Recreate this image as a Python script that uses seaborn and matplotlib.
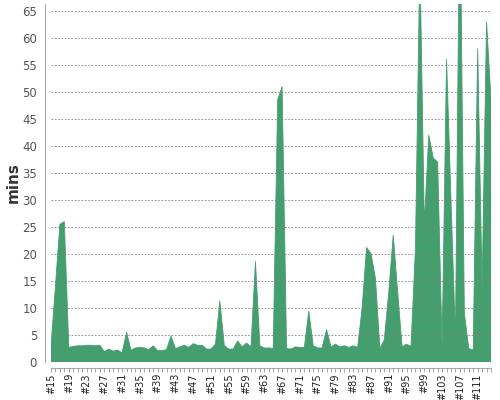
import matplotlib
matplotlib.use("Agg")
import matplotlib.pyplot as plt
import seaborn as sns
import pandas as pd

builds = list(range(15, 115))
minutes = [
    3.0, 14.0, 25.5, 26.0, 2.7, 2.9, 3.0, 3.0, 3.1, 3.1,      # 15-24
    3.0, 3.1, 1.9, 2.4, 2.0, 2.2, 1.7, 5.5, 2.2, 2.6,         # 25-34
    2.7, 2.6, 2.3, 3.0, 2.1, 2.1, 2.3, 4.8, 2.5, 2.8,         # 35-44
    3.1, 2.7, 3.4, 3.1, 3.1, 2.4, 2.4, 3.3, 11.3, 3.0,        # 45-54
    2.4, 2.4, 3.9, 2.8, 3.5, 2.8, 18.6, 3.0, 2.6, 2.6,        # 55-64
    2.5, 48.5, 51.0, 2.5, 2.4, 2.8, 2.7, 2.7, 9.4, 3.0,       # 65-74
    2.6, 2.6, 6.0, 2.8, 3.3, 2.8, 3.0, 2.7, 3.0, 2.7,         # 75-84
    10.0, 21.2, 20.1, 15.5, 2.5, 4.1, 13.0, 23.5, 13.0, 2.8,  # 85-94
    3.3, 2.9, 21.0, 75.0, 25.5, 42.0, 37.8, 37.0, 2.8, 56.0,  # 95-104
    30.0, 4.5, 90.0, 9.0, 2.5, 2.2, 58.0, 13.7, 63.0, 48.5,   # 105-114
]
tick_builds = list(range(15, 112, 4))
tick_labels = [f"#{b}" for b in tick_builds]
y_ticks = list(range(0, 70, 5))

GREEN = "#449e6e"

sns.set_style("white")
fig = plt.figure(figsize=(5, 4), dpi=100)
ax = fig.add_axes([51 / 500, 38 / 400, 440 / 500, 358 / 400])

df = pd.DataFrame({"build": builds, "mins": minutes})
sns.lineplot(data=df, x="build", y="mins", ax=ax, color=GREEN, lw=0.6)
ax.fill_between(df["build"], df["mins"], color=GREEN, lw=0)

ax.set_xlim(15, 114)
ax.set_ylim(0, 66.3)
ax.set_yticks(y_ticks)
ax.set_xticks(builds, minor=True)
ax.set_xticks(tick_builds)
ax.set_xticklabels(tick_labels)
ax.tick_params(axis="x", which="both", length=3, width=0.6, color="#999",
               pad=1, bottom=True, labelrotation=90, labelsize=7,
               labelcolor="#222")
ax.tick_params(axis="y", length=0, pad=6, labelsize=8.5, labelcolor="#555")
ax.yaxis.grid(True, ls=(0, (2, 2)), color="#808080", lw=0.6)
ax.xaxis.grid(False)
ax.set_axisbelow(False)

for s in ["top", "right"]:
    ax.spines[s].set_visible(False)
for s in ["left", "bottom"]:
    ax.spines[s].set_color("#aaa")
    ax.spines[s].set_linewidth(0.8)
    ax.spines[s].set_position(("outward", 4))

ax.set_xlabel("")
ax.set_ylabel("mins", fontsize=11, fontweight="bold", color="#333", labelpad=1)

fig.savefig("out.png", dpi=100)
